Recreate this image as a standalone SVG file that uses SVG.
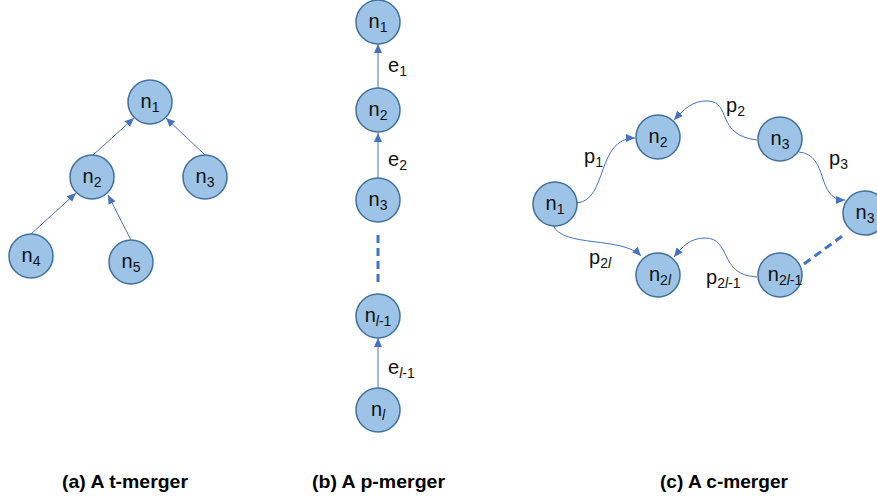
<svg xmlns="http://www.w3.org/2000/svg" width="877" height="500" viewBox="0 0 877 500">
<style>
.node{fill:#9DC3E6;stroke:#41719C;stroke-width:1.5}
.lbl{font-family:"Liberation Sans",Arial,sans-serif;font-size:20px;fill:#111;text-anchor:middle}
.elbl{font-family:"Liberation Sans",Arial,sans-serif;font-size:20px;fill:#111}
.sub{font-size:14px}
.edge{fill:none;stroke:#4472C4;stroke-width:1;marker-end:url(#arr)}
.dash{fill:none;stroke:#4472C4;stroke-width:3;stroke-dasharray:8 5}
.cap{font-family:"Liberation Sans",Arial,sans-serif;font-size:19px;font-weight:bold;fill:#000}
</style>
<defs>
<marker id="arr" markerUnits="userSpaceOnUse" markerWidth="9" markerHeight="8" refX="9" refY="4" orient="auto"><path d="M0,0 L9,4 L0,8 z" fill="#4472C4"/></marker>
</defs>
<g id="connectors">
<line class="edge" x1="93" y1="155" x2="134" y2="118"/>
<line class="edge" x1="205" y1="155" x2="166" y2="118"/>
<line class="edge" x1="31" y1="234" x2="76" y2="193"/>
<line class="edge" x1="131" y1="240" x2="108" y2="195"/>
<line class="edge" x1="378" y1="88" x2="378" y2="44"/>
<line class="edge" x1="378" y1="178" x2="378" y2="133"/>
<line class="edge" x1="378" y1="388" x2="378" y2="338"/>
<line class="dash" x1="378" y1="235" x2="378" y2="285"/>
<path class="edge" d="M577,203 C608,200 596,138 635,138"/>
<path class="edge" d="M757,140 C715,135 732,102 708,101 C693,100 683,110 674,120"/>
<path class="edge" d="M799,152 C830,155 815,200 845,200"/>
<path class="edge" d="M553,225 C562,248 622,236 641,256"/>
<path class="edge" d="M757,277 C718,275 732,238 705,238 C690,238 682,247 674,257"/>
<line class="dash" x1="804" y1="264" x2="845" y2="234"/>
</g>
<g id="a-n1"><circle class="node" cx="150" cy="102" r="22"/><text class="lbl" x="150" y="108">n<tspan class="sub" dy="4">1</tspan></text></g>
<g id="a-n2"><circle class="node" cx="92" cy="177" r="22"/><text class="lbl" x="92" y="183">n<tspan class="sub" dy="4">2</tspan></text></g>
<g id="a-n3"><circle class="node" cx="205" cy="177" r="22"/><text class="lbl" x="205" y="183">n<tspan class="sub" dy="4">3</tspan></text></g>
<g id="a-n4"><circle class="node" cx="31" cy="256" r="22"/><text class="lbl" x="31" y="262">n<tspan class="sub" dy="4">4</tspan></text></g>
<g id="a-n5"><circle class="node" cx="131" cy="262" r="22"/><text class="lbl" x="131" y="268">n<tspan class="sub" dy="4">5</tspan></text></g>
<g id="b-n1"><circle class="node" cx="378" cy="22" r="22"/><text class="lbl" x="378" y="28">n<tspan class="sub" dy="4">1</tspan></text></g>
<g id="b-n2"><circle class="node" cx="378" cy="110" r="22"/><text class="lbl" x="378" y="116">n<tspan class="sub" dy="4">2</tspan></text></g>
<g id="b-n3"><circle class="node" cx="378" cy="200" r="22"/><text class="lbl" x="378" y="206">n<tspan class="sub" dy="4">3</tspan></text></g>
<g id="b-nl1"><circle class="node" cx="378" cy="316" r="22"/><text class="lbl" x="378" y="322">n<tspan class="sub" dy="4"><tspan font-style="italic">l</tspan>-1</tspan></text></g>
<g id="b-nl"><circle class="node" cx="378" cy="410" r="22"/><text class="lbl" x="378" y="416">n<tspan class="sub" dy="4" font-style="italic">l</tspan></text></g>
<g id="b-labels">
<text class="elbl" x="388" y="72">e<tspan class="sub" dy="4">1</tspan></text>
<text class="elbl" x="388" y="166">e<tspan class="sub" dy="4">2</tspan></text>
<text class="elbl" x="388" y="374">e<tspan class="sub" dy="4"><tspan font-style="italic">l</tspan>-1</tspan></text>
</g>
<g id="c-n1"><circle class="node" cx="555" cy="204" r="22"/><text class="lbl" x="555" y="210">n<tspan class="sub" dy="4">1</tspan></text></g>
<g id="c-n2"><circle class="node" cx="658" cy="137" r="22"/><text class="lbl" x="658" y="143">n<tspan class="sub" dy="4">2</tspan></text></g>
<g id="c-n3"><circle class="node" cx="780" cy="139" r="22"/><text class="lbl" x="780" y="145">n<tspan class="sub" dy="4">3</tspan></text></g>
<g id="c-n3b"><circle class="node" cx="865" cy="213" r="22"/><text class="lbl" x="865" y="219">n<tspan class="sub" dy="4">3</tspan></text></g>
<g id="c-n2l"><circle class="node" cx="658" cy="275" r="22"/><text class="lbl" x="660" y="281">n<tspan class="sub" dy="4">2<tspan font-style="italic">l</tspan></tspan></text></g>
<g id="c-n2l1"><circle class="node" cx="780" cy="275" r="22"/><text class="lbl" x="785" y="281">n<tspan class="sub" dy="4">2<tspan font-style="italic">l</tspan>-1</tspan></text></g>
<g id="c-labels">
<text class="elbl" x="584" y="163">p<tspan class="sub" dy="4">1</tspan></text>
<text class="elbl" x="726" y="112">p<tspan class="sub" dy="4">2</tspan></text>
<text class="elbl" x="829" y="165">p<tspan class="sub" dy="4">3</tspan></text>
<text class="elbl" x="589" y="264">p<tspan class="sub" dy="4">2<tspan font-style="italic">l</tspan></tspan></text>
<text class="elbl" x="706" y="284">p<tspan class="sub" dy="4">2<tspan font-style="italic">l</tspan>-1</tspan></text>
</g>
<g id="captions">
<text class="cap" x="62" y="488" textLength="126" lengthAdjust="spacingAndGlyphs">(a) A t-merger</text>
<text class="cap" x="312" y="488" textLength="133" lengthAdjust="spacingAndGlyphs">(b) A p-merger</text>
<text class="cap" x="660" y="488" textLength="128" lengthAdjust="spacingAndGlyphs">(c) A c-merger</text>
</g>
</svg>
